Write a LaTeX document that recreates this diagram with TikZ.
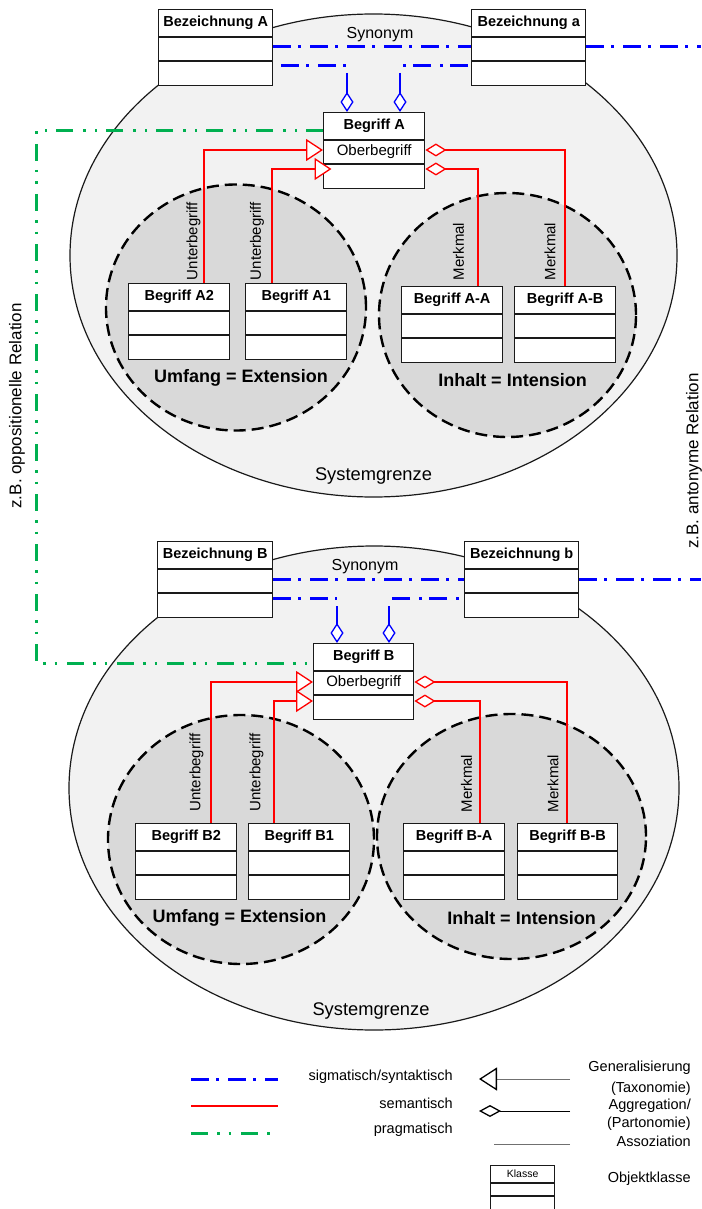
\documentclass[tikz,border=0pt]{standalone}
\usepackage{fontspec}
\setmainfont{Liberation Sans}
\usetikzlibrary{arrows.meta}

\definecolor{sysfill}{HTML}{F2F2F2}
\definecolor{setfill}{HTML}{D9D9D9}
\definecolor{sigblue}{HTML}{0000FF}
\definecolor{semred}{HTML}{FF0000}
\definecolor{pragreen}{HTML}{00B050}
\definecolor{ink}{HTML}{1A1A1A}
\definecolor{legendgray}{HTML}{707070}

\tikzset{
  classframe/.style={draw=ink, line width=1.4pt, fill=white, rectangle, inner sep=0pt,
    minimum height=76pt, anchor=north west},
  classrule/.style={draw=ink, line width=1.4pt},
  classtitle/.style={font=\fontsize{14.5}{16}\selectfont\bfseries, inner sep=0pt},
  rowtext/.style={font=\fontsize{15}{16}\selectfont, inner sep=0pt},
  sysbound/.style={draw=ink, line width=1.2pt, fill=sysfill},
  conceptset/.style={draw=black, line width=2.4pt, dash pattern=on 12pt off 6pt, fill=setfill},
  sig/.style={draw=sigblue, line width=3pt, dash pattern=on 18pt off 7pt on 3pt off 9pt},
  sigstem/.style={draw=sigblue, line width=2.6pt},
  sem/.style={draw=semred, line width=2.4pt},
  prag/.style={draw=pragreen, line width=3pt,
    dash pattern=on 17pt off 9pt on 2.5pt off 9pt on 2.5pt off 10pt},
  gentip/.style={-{Triangle[length=17pt, width=22pt, fill=white, line width=1.3pt]}},
  aggtip/.style={-{Diamond[length=21pt, width=13pt, fill=white, line width=1.3pt]}},
  partip/.style={-{Diamond[length=20pt, width=13pt, fill=white, line width=1.3pt]}},
  rellabel/.style={font=\fontsize{15}{15}\selectfont, inner sep=0pt, rotate=90},
  sidelabel/.style={font=\fontsize{17}{17}\selectfont, inner sep=0pt, rotate=90},
  setlabel/.style={font=\fontsize{18}{19}\selectfont\bfseries, inner sep=0pt},
  plainlabel/.style={font=\fontsize{18.3}{19}\selectfont, inner sep=0pt},
  synlabel/.style={font=\fontsize{16}{17}\selectfont, inner sep=0pt},
  legtext/.style={font=\fontsize{14.5}{16}\selectfont, inner sep=0pt},
  legline/.style={draw=legendgray, line width=1pt},
}

% class box: name, left x, top y, width, title
\newcommand\umlclass[5]{%
  \node[classframe, minimum width=#4pt] (#1) at (#2,#3) {};
  \draw[classrule] ([yshift=-28pt]#1.north west) -- ([yshift=-28pt]#1.north east)
                   ([yshift=-52pt]#1.north west) -- ([yshift=-52pt]#1.north east);
  \node[classtitle] (#1-title) at ([yshift=-14pt]#1.north) {#5};
}

\begin{document}
\begin{tikzpicture}[x=1pt, y=-1pt]
\useasboundingbox (0,0) rectangle (701,1209);

% ---------- system boundaries ----------
\draw[sysbound] (373.5,255.5) ellipse [x radius=303.5pt, y radius=241.5pt];
\draw[sysbound] (374,788) ellipse [x radius=305pt, y radius=242pt];

% ---------- extension / intension sets ----------
\draw[conceptset] (236,307.5) ellipse [x radius=130pt, y radius=123pt];
\draw[conceptset] (507.5,315) ellipse [x radius=128.5pt, y radius=122pt];
\draw[conceptset] (241,839.5) ellipse [x radius=133pt, y radius=124.5pt];
\draw[conceptset] (511.5,836.5) ellipse [x radius=134.5pt, y radius=122.5pt];

\node[setlabel] (extA) at (241,378) {Umfang = Extension};
\node[setlabel] (intA) at (512.5,380) {Inhalt = Intension};
\node[setlabel] (extB) at (239.5,918) {Umfang = Extension};
\node[setlabel] (intB) at (521.5,918) {Inhalt = Intension};
\node[plainlabel] (sysA) at (373.5,476) {Systemgrenze};
\node[plainlabel] (sysB) at (371,1011) {Systemgrenze};

% ---------- classes, concept A ----------
\umlclass{BzA}{158}{9}{114}{Bezeichnung A}
\umlclass{Bza}{471}{9}{114}{Bezeichnung a}
\umlclass{BgA}{323}{112}{101}{Begriff A}
\node[rowtext] (BgA-row) at ([yshift=-40pt]BgA.north) {Oberbegriff};
\umlclass{A2}{128}{283}{101}{Begriff A2}
\umlclass{A1}{245}{283}{101}{Begriff A1}
\umlclass{AA}{401}{286}{101}{Begriff A-A}
\umlclass{AB}{514}{286}{101}{Begriff A-B}

% ---------- classes, concept B ----------
\umlclass{BzB}{157}{541}{115}{Bezeichnung B}
\umlclass{Bzb}{464}{541}{114}{Bezeichnung b}
\umlclass{BgB}{313}{643}{100}{Begriff B}
\node[rowtext] (BgB-row) at ([yshift=-40pt]BgB.north) {Oberbegriff};
\umlclass{B2}{135}{823}{101}{Begriff B2}
\umlclass{B1}{248}{823}{101}{Begriff B1}
\umlclass{BA}{403}{823}{101}{Begriff B-A}
\umlclass{BB}{517}{823}{100}{Begriff B-B}

% ---------- sigmatic / syntactic relations ----------
\coordinate (edgeA) at (701,47);
\coordinate (edgeB) at (701,579);
\node[synlabel] (synA) at (380,35) {Synonym};
\node[synlabel] (synB) at (365,567) {Synonym};
\draw[sig] ([yshift=-38pt]BzA.north east) -- ([yshift=-38pt]Bza.north west);
\draw[sig] ([yshift=-38pt]Bza.north east) -- (edgeA);
\draw[sig] ([yshift=-38pt]BzB.north east) -- ([yshift=-38pt]Bzb.north west);
\draw[sig] ([yshift=-38pt]Bzb.north east) -- (edgeB);

\coordinate (kA1) at (347,66);
\coordinate (kA2) at (400,66);
\draw[sig, dash phase=29pt] ([yshift=-57pt]BzA.north east) -- (kA1);
\draw[sig, dash phase=34pt] ([yshift=-57pt]Bza.north west) -- (kA2);
\draw[sigstem, partip] ([yshift=-7pt]kA1) -- (BgA.north -| kA1);
\draw[sigstem, partip] ([yshift=-7pt]kA2) -- (BgA.north -| kA2);

\coordinate (kB1) at (337,598);
\coordinate (kB2) at (389,598);
\draw[sig] ([yshift=-57pt]BzB.north east) -- (kB1);
\draw[sig, dash phase=20pt] ([yshift=-57pt]Bzb.north west) -- (kB2);
\draw[sigstem, partip] ([yshift=-8pt]kB1) -- (BgB.north -| kB1);
\draw[sigstem, partip] ([yshift=-8pt]kB2) -- (BgB.north -| kB2);

% ---------- pragmatic relation ----------
\coordinate (gturn) at (36,400);
\draw[prag] ([yshift=-19pt]BgA.north west) -| (gturn) |- ([yshift=-20pt]BgB.north west);
\node[sidelabel] (oppo) at (17,406) {z.B. oppositionelle Relation};
\node[sidelabel] (anto) at (694,461) {z.B. antonyme Relation};

% ---------- semantic relations, concept A ----------
\draw[sem, gentip] ([xshift=24.5pt]A2.north) |- ([yshift=-38pt]BgA.north west);
\draw[sem, gentip] ([xshift=-24.5pt]A1.north) |- ([xshift=8.5pt,yshift=-57pt]BgA.north west);
\draw[sem, aggtip] ([xshift=25.5pt]AA.north) |- ([yshift=-57pt]BgA.north east);
\draw[sem, aggtip] ([xshift=-0.5pt]AB.north) |- ([yshift=-38pt]BgA.north east);
\node[rellabel] (uA2) at (193.5,241) {Unterbegriff};
\node[rellabel] (uA1) at (257,241) {Unterbegriff};
\node[rellabel] (mAA) at (458.5,251.5) {Merkmal};
\node[rellabel] (mAB) at (550,251.5) {Merkmal};

% ---------- semantic relations, concept B ----------
\draw[sem, gentip] ([xshift=24.5pt]B2.north) |- ([yshift=-39pt]BgB.north west);
\draw[sem, gentip] ([xshift=-25.5pt]B1.north) |- ([yshift=-58pt]BgB.north west);
\draw[sem, aggtip] ([xshift=25.5pt]BA.north) |- ([yshift=-58pt]BgB.north east);
\draw[sem, aggtip] ([xshift=-1pt]BB.north) |- ([yshift=-39pt]BgB.north east);
\node[rellabel] (uB2) at (196.5,772.5) {Unterbegriff};
\node[rellabel] (uB1) at (256.5,772.5) {Unterbegriff};
\node[rellabel] (mBA) at (466.5,783.5) {Merkmal};
\node[rellabel] (mBB) at (553,783.5) {Merkmal};

% ---------- legend ----------
\coordinate (lgS1) at (191,1079); \coordinate (lgS2) at (278,1079);
\coordinate (lgR1) at (191,1106); \coordinate (lgR2) at (278,1106);
\coordinate (lgP1) at (191,1133); \coordinate (lgP2) at (271,1133);
\draw[sig] (lgS1) -- (lgS2);
\draw[sem] (lgR1) -- (lgR2);
\draw[prag] (lgP1) -- (lgP2);
\node[legtext, anchor=east] (lgSig) at (453,1077) {sigmatisch/syntaktisch};
\node[legtext, anchor=east] (lgSem) at (453,1103) {semantisch};
\node[legtext, anchor=east] (lgPrag) at (453,1130) {pragmatisch};

\coordinate (lgG1) at (570,1079); \coordinate (lgG2) at (479,1079);
\coordinate (lgA1) at (570,1111); \coordinate (lgA2) at (479,1111);
\coordinate (lgC1) at (570,1144); \coordinate (lgC2) at (494,1144);
\draw[legline, -{Triangle[open, length=18pt, width=23pt, line width=1.3pt, color=black]}] (lgG1) -- (lgG2);
\draw[legline, draw=black, -{Diamond[open, length=22pt, width=12pt, line width=1.3pt, color=black]}] (lgA1) -- (lgA2);
\draw[legline] (lgC1) -- (lgC2);
\node[legtext, anchor=east] (lgGen) at (691,1068) {Generalisierung};
\node[legtext, anchor=east] (lgTax) at (691,1089) {(Taxonomie)};
\node[legtext, anchor=east] (lgAgg) at (691,1106) {Aggregation/};
\node[legtext, anchor=east] (lgPart) at (691,1124) {(Partonomie)};
\node[legtext, anchor=east] (lgAss) at (691,1141) {Assoziation};

\node[draw=ink, line width=1.3pt, fill=white, rectangle, inner sep=0pt,
      minimum width=64pt, minimum height=43.5pt, anchor=north west] (lgK) at (490,1165) {};
\draw[classrule, line width=1.3pt] ([yshift=-18pt]lgK.north west) -- ([yshift=-18pt]lgK.north east)
                                   ([yshift=-31pt]lgK.north west) -- ([yshift=-31pt]lgK.north east);
\node[font=\fontsize{10.5}{11}\selectfont, inner sep=0pt] (lgK-title) at ([yshift=-9pt]lgK.north) {Klasse};
\node[legtext, anchor=east] (lgObj) at (691,1179) {Objektklasse};
\end{tikzpicture}
\end{document}
